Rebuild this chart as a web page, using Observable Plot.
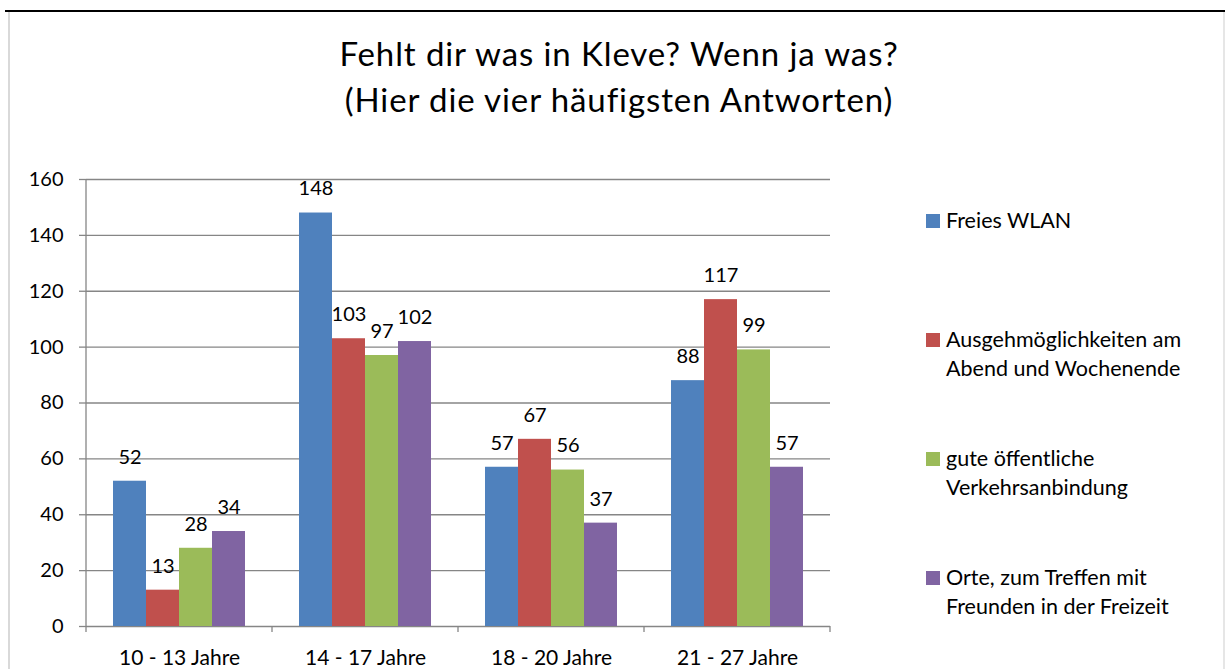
<!DOCTYPE html>
<html><head><meta charset="utf-8">
<script src="https://cdn.jsdelivr.net/npm/d3@7"></script>
<script src="https://cdn.jsdelivr.net/npm/@observablehq/plot@0.6"></script>
<style>
body{margin:0;background:#fff;}
#wrap{position:relative;width:1225px;height:669px;overflow:hidden;font-family:Lato,"Open Sans",sans-serif;color:#000;}
#topline{position:absolute;left:5px;right:0;top:10px;height:2px;background:#000;}
#leftline{position:absolute;left:8px;top:12px;bottom:0;width:2px;background:#d9d9d9;}
#rightline{position:absolute;left:1223px;top:12px;bottom:0;width:2px;background:#e6e6e6;}
#title{position:absolute;left:0;width:1238px;top:30px;text-align:center;font-size:33px;line-height:46px;letter-spacing:0.9px;}
#chart{position:absolute;left:0;top:0;}
.leg{position:absolute;left:926px;font-size:21.5px;line-height:29px;}
.leg .sw{position:absolute;left:0;top:8.6px;width:14px;height:13.5px;}
.leg .tx{position:absolute;left:20px;top:0;white-space:nowrap;}
</style></head>
<body><div id="wrap">
<div id="topline"></div><div id="leftline"></div><div id="rightline"></div>
<div id="chart"></div>
<div id="title"></div>
</div>
<script>
const titleLines = ["Fehlt dir was in Kleve? Wenn ja was?", "(Hier die vier häufigsten Antworten)"];
const categories = ["10 - 13 Jahre", "14 - 17 Jahre", "18 - 20 Jahre", "21 - 27 Jahre"];
const seriesNames = ["Freies WLAN", "Ausgehmöglichkeiten am Abend und Wochenende", "gute öffentliche Verkehrsanbindung", "Orte, zum Treffen mit Freunden in der Freizeit"];
const legendLines = [["Freies WLAN"], ["Ausgehmöglichkeiten am", "Abend und Wochenende"], ["gute öffentliche", "Verkehrsanbindung"], ["Orte, zum Treffen mit", "Freunden in der Freizeit"]];
const freiesWlan = [52, 148, 57, 88];
const ausgehmoeglichkeiten = [13, 103, 67, 117];
const verkehrsanbindung = [28, 97, 56, 99];
const treffpunkte = [34, 102, 37, 57];
const colors = ["#4F81BD", "#C0504D", "#9BBB59", "#8064A2"];
const yTicks = [0, 20, 40, 60, 80, 100, 120, 140, 160];

document.getElementById("title").innerHTML = titleLines.join("<br>");

const seriesValues = [freiesWlan, ausgehmoeglichkeiten, verkehrsanbindung, treffpunkte];
const data = categories.flatMap((c, i) => seriesValues.map((vals, j) => ({cat: c, series: seriesNames[j], value: vals[i]})));

const grid = "#868686";
const font = "Lato, 'Open Sans', sans-serif";

const chart = Plot.plot({
  width: 1225, height: 669,
  marginLeft: 85, marginRight: 395, marginTop: 179, marginBottom: 43,
  style: {fontFamily: font, background: "transparent", overflow: "visible"},
  fx: {domain: categories, padding: 0, label: null},
  x: {domain: seriesNames, paddingInner: 0, paddingOuter: 0.74, axis: null},
  y: {domain: [0, 160], label: null},
  color: {domain: seriesNames, range: colors},
  marks: [
    Plot.ruleY(yTicks, {stroke: grid, strokeWidth: 1.3}),
    Plot.barY(data, {fx: "cat", x: "series", y: "value", fill: "series"}),
    Plot.text(data, {fx: "cat", x: "series", y: "value", text: d => String(d.value), dy: -24, fontSize: 20, fill: "#000"}),
    Plot.axisY(yTicks, {tickSize: 7, tickPadding: 16, fontSize: 20, stroke: grid, fill: "#000", strokeWidth: 1.3, label: null}),
    Plot.axisFx({anchor: "bottom", tickSize: 0, tickPadding: 24, fontSize: 21, fill: "#000", label: null})
  ]
});
document.getElementById("chart").appendChild(chart);

// Axis lines and category boundary ticks (Excel style), from Plot's scales
const fx = chart.scale("fx"), y = chart.scale("y");
const svg = d3.select(chart);
const y0 = y.apply(0), y1 = y.apply(160);
const left = fx.apply(categories[0]);
const bounds = categories.map(c => fx.apply(c)).concat([fx.apply(categories[categories.length - 1]) + fx.bandwidth]);
const g = svg.append("g").attr("stroke", grid).attr("stroke-width", 1.3);
g.append("line").attr("x1", left).attr("x2", left).attr("y1", y1).attr("y2", y0);
bounds.forEach(b => g.append("line").attr("x1", b).attr("x2", b).attr("y1", y0).attr("y2", y0 + 6));

// Legend
const wrap = document.getElementById("wrap");
legendLines.forEach((lines, i) => {
  const item = document.createElement("div");
  item.className = "leg";
  item.style.top = (205.7 + 119 * i) + "px";
  const sw = document.createElement("div");
  sw.className = "sw"; sw.style.background = colors[i];
  const tx = document.createElement("div");
  tx.className = "tx"; tx.innerHTML = lines.join("<br>");
  item.appendChild(sw); item.appendChild(tx);
  wrap.appendChild(item);
});
</script>
</body></html>
